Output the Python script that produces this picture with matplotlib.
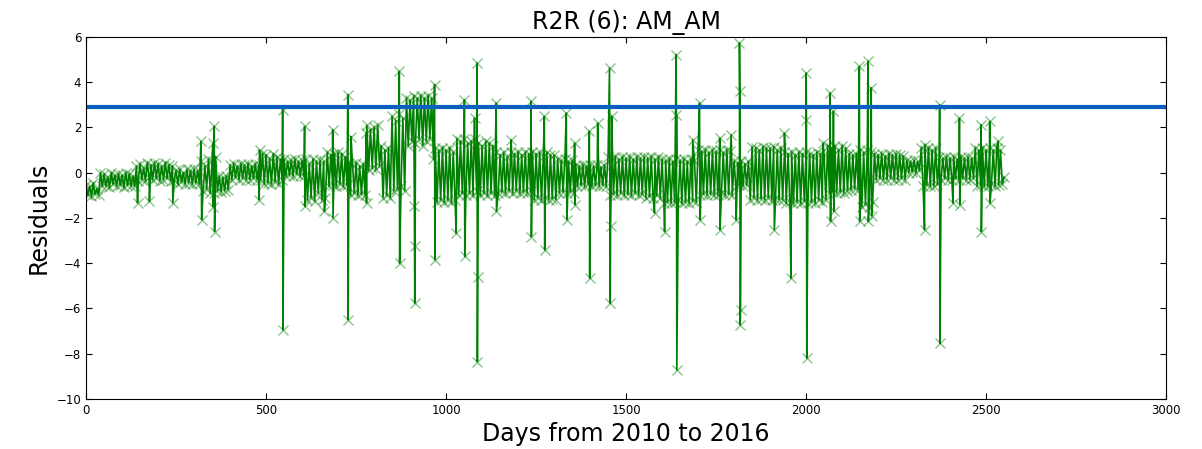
import numpy as np
import matplotlib
matplotlib.use('Agg')
import matplotlib.pyplot as plt

# Residuals, one value every 5 days (band top / bottom)
resid = [
    -0.55, -1.0, -0.6, -1.05, -0.45, -0.95, -0.7, -1.0, 0.0, -0.6,
    -0.05, -0.6, -0.2, -0.65, 0.0, -0.5, -0.1, -0.6, -0.05, -0.55,
    -0.1, -0.65, 0.0, -0.55, -0.05, -0.6, -0.15, -0.6, 0.3, -0.35,
    0.4, -0.3, 0.2, -0.35, 0.45, -0.2, 0.35, -0.3, 0.45, -0.25,
    0.4, -0.35, 0.3, -0.3, 0.45, -0.25, 0.35, -0.35, 0.3, -0.3,
    0.1, -0.5, 0.15, -0.4, 0.0, -0.5, 0.15, -0.45, 0.1, -0.5,
    0.15, -0.45, 0.1, -0.5, 0.5, -0.8, 0.3, -0.7, 0.6, -0.9,
    0.5, -0.9, 0.7, -0.8, -0.15, -0.85, -0.2, -0.8, -0.15, -0.75,
    0.35, -0.3, 0.4, -0.2, 0.3, -0.3, 0.4, -0.25, 0.35, -0.3,
    0.4, -0.3, 0.3, -0.25, 0.4, -0.3, 0.35, -0.3, 0.85, -0.5,
    0.8, -0.45, 0.6, -0.5, 0.85, -0.4, 0.7, -0.5, 0.6, -0.3,
    0.6, -0.15, 0.5, -0.1, 0.55, -0.15, 0.6, -0.05, 0.5, -0.15,
    0.55, -0.15, 0.6, -1.2, 0.4, -1.1, 0.6, -1.25, 0.5, -0.9,
    0.55, -1.2, 0.5, -1.1, 0.9, -0.6, 0.8, -0.55, 0.85, -0.6,
    0.9, -0.5, 0.85, -0.6, 0.7, -0.55, 0.45, -1.0, 0.4, -0.9,
    0.45, -1.0, 0.3, -0.95, 0.4, -1.0, 2.1, 0.1, 1.9, 0.2,
    2.0, 0.15, 2.1, 0.3, 1.2, -1.1, 1.0, -1.0, 1.1, -1.1,
    2.5, -0.8, 2.3, -0.7, 2.6, -0.6, 2.4, -0.8, 3.3, 1.2,
    3.2, 1.4, 3.4, 1.3, 3.3, 1.5, 3.4, 1.2, 3.3, 1.4,
    3.4, 1.5, 3.3, 0.6, 1.1, -1.3, 1.0, -1.2, 1.1, -1.3,
    1.0, -1.2, 1.1, -1.3, 0.9, -1.2, 1.5, -1.0, 1.4, -0.9,
    1.5, -1.0, 1.3, -0.9, 1.4, -1.0, 1.5, -0.8, 1.3, -1.0,
    1.2, -0.9, 1.4, -1.0, 1.3, -0.9, 1.2, -1.0, 0.9, -0.9,
    0.8, -0.85, 0.9, -0.9, 0.7, -0.8, 0.9, -0.9, 0.85, -0.8,
    0.9, -0.9, 0.8, -0.85, 0.9, -0.9, 0.85, -0.8, 0.9, -1.2,
    0.85, -1.1, 0.9, -1.2, 0.7, -1.1, 0.9, -1.2, 0.8, -1.15,
    0.8, -1.2, 0.6, -0.9, 0.55, -0.85, 0.6, -0.9, 0.5, -0.85,
    0.55, -0.9, 0.35, -0.6, 0.3, -0.55, 0.35, -0.6, 0.3, -0.5,
    0.35, -0.6, 0.3, -0.55, 0.35, -0.6, 0.25, -0.55, 0.35, -0.6,
    0.7, -1.0, 0.65, -0.95, 0.7, -1.0, 0.6, -0.9, 0.7, -1.0,
    0.65, -0.95, 0.7, -1.0, 0.6, -0.9, 0.7, -1.0, 0.65, -0.95,
    0.7, -1.1, 0.65, -1.05, 0.7, -1.1, 0.6, -1.0, 0.7, -1.1,
    0.6, -1.35, 0.55, -1.3, 0.6, -1.35, 0.5, -1.3, 0.6, -1.2,
    0.55, -1.35, 0.6, -1.3, 0.5, -1.35, 0.6, -1.25, 0.55, -1.3,
    1.0, -1.0, 0.95, -0.95, 1.0, -1.0, 0.9, -0.95, 1.0, -1.0,
    0.95, -1.0, 1.0, -0.9, 0.9, -1.0, 1.0, -0.95, 0.95, -1.0,
    0.5, -0.6, 0.45, -0.55, 0.5, -0.6, 0.4, -0.55, 0.5, -1.2,
    1.15, -1.1, 1.1, -1.2, 1.0, -1.15, 1.15, -1.2, 1.1, -1.1,
    1.1, -1.2, 1.15, -1.15, 1.0, -1.2, 1.1, -1.2, 0.9, -1.35,
    0.85, -1.3, 0.9, -1.35, 0.8, -1.3, 0.9, -1.35, 0.85, -1.25,
    0.9, -1.35, 0.85, -1.3, 0.8, -1.35, 0.9, -1.2, 0.85, -1.3,
    0.8, -1.2, 1.2, -0.9, 1.1, -0.85, 1.2, -0.9, 1.0, -0.85,
    1.2, -0.9, 1.1, -0.8, 0.85, -0.75, 0.8, -0.7, 0.85, -0.75,
    1.0, -1.5, 0.9, -1.4, 1.0, -1.5, 0.9, -1.3, 0.85, -0.3,
    0.8, -0.25, 0.85, -0.3, 0.75, -0.3, 0.85, -0.25, 0.8, -0.3,
    0.85, -0.3, 0.8, -0.25, 0.75, -0.3, 0.55, 0.0, 0.5, 0.05,
    0.55, 0.0, 0.5, 0.1, 1.1, -0.6, 1.0, -0.55, 1.1, -0.6,
    1.0, -0.6, 1.1, -0.5, 0.7, -0.3, 0.65, -0.25, 0.7, -0.3,
    0.65, -0.3, 0.7, -0.25, 0.6, -0.3, 0.7, -0.25, 0.65, -0.3,
    0.7, -0.3, 0.65, -0.25, 1.1, -0.6, 1.0, -0.55, 1.1, -0.6,
    1.0, -0.6, 1.1, -0.5, 1.0, -0.6, 1.1, -0.55, 1.0, -0.5,
    -0.2,
]
days = np.arange(0, 5 * len(resid), 5)

# isolated spikes (day, residual)
spike_days = [143, 176, 241, 319, 321, 352, 353, 356, 357, 481, 482,
              546, 547, 607, 608, 662, 685, 686, 727, 728, 736, 778, 779,
              870, 871, 912, 913, 914, 968, 969,
              1028, 1051, 1052, 1079, 1086, 1087, 1088, 1139, 1140, 1181,
              1236, 1237, 1273, 1274, 1334, 1336, 1357, 1358, 1398, 1399,
              1421, 1454, 1456, 1457, 1460,
              1579, 1607, 1639, 1640, 1641, 1685, 1704, 1706, 1760, 1761,
              1792, 1806, 1815, 1816, 1817, 1818, 1912, 1940, 1958,
              2000, 2001, 2002, 2047, 2067, 2068, 2076, 2077, 2148, 2149,
              2172, 2173, 2181, 2182, 2329, 2330, 2371, 2372, 2408,
              2426, 2427, 2486, 2487, 2510, 2511, 2533]
spike_vals = [-1.34, -1.27, -1.34, 1.39, -2.08, 1.3, -1.5, 2.05, -2.6, -1.2, 1.0,
              2.79, -6.95, 2.05, -1.49, -1.71, 1.9, -2.0, 3.45, -6.5, 1.6, 1.75, -1.34,
              4.48, -4.0, -1.49, -5.77, -3.26, 3.9, -3.85,
              -2.67, 3.23, -3.7, 2.42, 4.85, -8.35, -4.59, 3.08, -1.71, 1.46,
              3.16, -2.82, 2.49, -3.41, 2.64, -2.08, 1.31, -1.42, 1.83, -4.66,
              2.2, 4.63, -5.77, -2.37, 2.5,
              -1.78, -2.6, 5.22, 2.57, -8.72, 1.46, 3.08, -2.08, 1.53, -2.52,
              1.68, -2.08, 5.74, 3.6, -6.73, -6.06, -2.52, 1.75, -4.66,
              4.41, 2.35, -8.2, 1.31, 3.53, -2.15, 2.71, -1.7, 4.7, -2.15,
              4.93, -2.15, 3.75, -1.9, -2.52, 1.24, 3.0, -7.54, -1.34,
              2.42, -1.42, 2.12, -2.6, 2.27, -1.34, 1.39]

threshold = 2.92

x = np.concatenate([days, spike_days])
y = np.concatenate([resid, spike_vals])
order = np.argsort(x, kind='stable')
x, y = x[order], y[order]

fig = plt.figure(figsize=(12.02, 4.49), dpi=100)
ax = fig.add_axes([0.0716, 0.1114, 0.8985, 0.8062])

ax.plot(x, y, color='green', linewidth=1.2)
ax.plot(x, y, color='green', linestyle='none', marker='x', markersize=7,
        markeredgewidth=1, alpha=0.45)
ax.axhline(threshold, color='#0a5fbf', linewidth=3)

ax.set_xlim(0, 3000)
ax.set_ylim(-10, 6)
ax.set_xticks(np.arange(0, 3001, 500))
ax.set_yticks(np.arange(-10, 7, 2))
ax.tick_params(direction='in', top=True, right=True, labelsize=8.5, length=4)

ax.set_title('R2R (6): AM_AM', fontsize=17)
ax.set_xlabel('Days from 2010 to 2016', fontsize=17)
ax.set_ylabel('Residuals', fontsize=17)

fig.savefig('out.png', dpi=100)
